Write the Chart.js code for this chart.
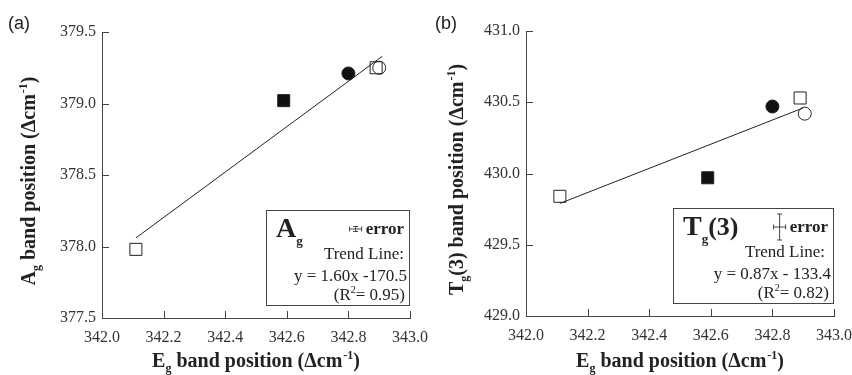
<!DOCTYPE html>
<html>
<head>
<meta charset="utf-8">
<script src="https://cdn.jsdelivr.net/npm/chart.js@4/dist/chart.umd.min.js"></script>
<style>
  html, body { margin: 0; padding: 0; background: #fff; }
  body { width: 852px; height: 375px; position: relative; overflow: hidden; }
  canvas { position: absolute; top: 0; }
  #cA { left: 0; }
  #cB { left: 426px; }
</style>
</head>
<body>
<canvas id="cA" width="430" height="375"></canvas>
<canvas id="cB" width="426" height="375"></canvas>
<script>
// ---------------- data ----------------
const xTicks = [342.0, 342.2, 342.4, 342.6, 342.8, 343.0];
const xTickLabels = ['342.0', '342.2', '342.4', '342.6', '342.8', '343.0'];
const yTicksA = [377.5, 378.0, 378.5, 379.0, 379.5];
const yTickLabelsA = ['377.5', '378.0', '378.5', '379.0', '379.5'];
const yTicksB = [429.0, 429.5, 430.0, 430.5, 431.0];
const yTickLabelsB = ['429.0', '429.5', '430.0', '430.5', '431.0'];

// (a) Eg vs Ag band position
const egA = [342.11, 342.59, 342.80, 342.89, 342.90];
const agA = [377.98, 379.02, 379.21, 379.25, 379.25];
const trendAx = [342.11, 342.91];
const trendAy = [378.06, 379.33];

// (b) Eg vs Tg(3) band position
const egB = [342.11, 342.59, 342.80, 342.89, 342.905];
const tgB = [429.84, 429.97, 430.47, 430.53, 430.42];
const trendBx = [342.11, 342.90];
const trendBy = [429.79, 430.46];

// legend texts
const legendA = { sym: 'A', sub: 'g', after: '', eq: 'y = 1.60x -170.5', r2: '0.95' };
const legendB = { sym: 'T', sub: 'g', after: '(3)', eq: 'y = 0.87x - 133.4', r2: '0.82' };

// ---------------- styles ----------------
const markerStyle = ['rect', 'rect', 'circle', 'rect', 'circle'];
const markerFill = ['rgba(0,0,0,0)', '#111', '#111', 'rgba(0,0,0,0)', 'rgba(0,0,0,0)'];
const markerRadius = [8.5, 8.5, 6.5, 8.5, 6.5];
const AXIS = '#444';
const SERIF = "'Liberation Serif', 'DejaVu Serif', serif";

function pts(xs, ys) { return xs.map((x, i) => ({ x: x, y: ys[i] })); }

function drawRich(ctx, parts, x, y, align) {
  let total = 0;
  parts.forEach(p => { ctx.font = p.font; p.w = ctx.measureText(p.t).width + (p.gap || 0); total += p.w; });
  let cx = align === 'center' ? x - total / 2 : (align === 'right' ? x - total : x);
  ctx.textAlign = 'left';
  ctx.textBaseline = 'alphabetic';
  parts.forEach(p => { ctx.font = p.font; ctx.fillText(p.t, cx + (p.gapBefore || 0), y + (p.dy || 0)); cx += p.w; });
}

function axisTitleParts(sym, sub, after) {
  const B = 'bold 20px ' + SERIF, S = 'bold 12px ' + SERIF;
  return [
    { t: sym, font: B },
    { t: sub, font: S, dy: 5 },
    { t: after + ' band position (\u0394cm', font: B },
    { t: '-1', font: S, dy: -8, gap: 1, gapBefore: 1 },
    { t: ')', font: B }
  ];
}

function makePlugin(opts) {
  return {
    id: 'decor' + opts.tag,
    afterDraw(chart) {
      const ctx = chart.ctx, ca = chart.chartArea;
      const xs = chart.scales.x, ys = chart.scales.y;
      ctx.save();
      // inward tick marks, placed by the library's scales
      ctx.strokeStyle = AXIS; ctx.lineWidth = 1;
      ctx.beginPath();
      xTicks.forEach(v => {
        const px = Math.round(xs.getPixelForValue(v)) + 0.5;
        ctx.moveTo(px, ca.bottom); ctx.lineTo(px, ca.bottom - 7);
      });
      opts.yTicks.forEach(v => {
        const py = Math.round(ys.getPixelForValue(v)) + 0.5;
        ctx.moveTo(ca.left, py); ctx.lineTo(ca.left + 7, py);
      });
      ctx.stroke();

      ctx.fillStyle = '#222';
      // panel tag
      ctx.font = '18px ' + "'Liberation Sans', Arial, sans-serif";
      ctx.textAlign = 'left'; ctx.textBaseline = 'alphabetic';
      ctx.fillText(opts.tag, opts.tagX, 29);
      // x title
      drawRich(ctx, axisTitleParts('E', 'g', ''), (ca.left + ca.right) / 2, 367, 'center');
      // y title
      ctx.save();
      ctx.translate(opts.yTitleX, (ca.top + ca.bottom) / 2 + 6);
      ctx.rotate(-Math.PI / 2);
      drawRich(ctx, axisTitleParts(opts.leg.sym, opts.leg.sub, opts.leg.after), 0, 0, 'center');
      ctx.restore();
      // legend box
      const bx2 = ca.right - 1, by2 = ca.bottom - 13;
      const bx1 = bx2 - opts.boxW, by1 = by2 - 95;
      ctx.strokeStyle = AXIS; ctx.lineWidth = 1;
      ctx.strokeRect(Math.round(bx1) + 0.5, Math.round(by1) + 0.5, opts.boxW, 95);
      // symbol
      drawRich(ctx, [
        { t: opts.leg.sym, font: 'bold 28px ' + SERIF },
        { t: opts.leg.sub, font: 'bold 13px ' + SERIF, dy: 8 },
        { t: opts.leg.after, font: 'bold 26px ' + SERIF }
      ], bx1 + 10, by1 + 27, 'left');
      // error text
      ctx.font = 'bold 17px ' + SERIF;
      ctx.textAlign = 'right';
      ctx.fillText('error', bx2 - 5, by1 + 24);
      const ew = ctx.measureText('error').width;
      // error cross
      const ex = bx2 - 5 - ew - 10, ey = by1 + 19;
      ctx.beginPath();
      ctx.moveTo(ex - opts.errH, ey); ctx.lineTo(ex + opts.errH, ey);
      ctx.moveTo(ex - opts.errH, ey - 2.5); ctx.lineTo(ex - opts.errH, ey + 2.5);
      ctx.moveTo(ex + opts.errH, ey - 2.5); ctx.lineTo(ex + opts.errH, ey + 2.5);
      ctx.moveTo(ex, ey - opts.errV); ctx.lineTo(ex, ey + opts.errV);
      ctx.moveTo(ex - 2.5, ey - opts.errV); ctx.lineTo(ex + 2.5, ey - opts.errV);
      ctx.moveTo(ex - 2.5, ey + opts.errV); ctx.lineTo(ex + 2.5, ey + opts.errV);
      ctx.stroke();
      // trend texts
      ctx.font = '17px ' + SERIF;
      ctx.textAlign = 'right';
      ctx.fillText('Trend Line:', bx2 - opts.tlPad, by1 + 49);
      ctx.fillText(opts.leg.eq, bx2 - 2, by1 + 71);
      drawRich(ctx, [
        { t: '(R', font: '17px ' + SERIF },
        { t: '2', font: '10px ' + SERIF, dy: -7 },
        { t: '= ' + opts.leg.r2 + ')', font: '17px ' + SERIF }
      ], bx2 - 4, by1 + 90, 'right');
      ctx.restore();
    }
  };
}

function makeChart(id, xs, ys, tx, ty, yTicks, yLabels, layoutPad, yWidth, xHeight, plugin) {
  const xLab = {}; xTicks.forEach((v, i) => xLab[v.toFixed(1)] = xTickLabels[i]);
  const yLab = {}; yTicks.forEach((v, i) => yLab[v.toFixed(1)] = yLabels[i]);
  return new Chart(document.getElementById(id), {
    type: 'scatter',
    data: {
      datasets: [
        {
          type: 'line', data: pts(tx, ty), borderColor: '#222', borderWidth: 1,
          pointRadius: 0, fill: false, tension: 0, order: 2
        },
        {
          data: pts(xs, ys), pointStyle: markerStyle, backgroundColor: markerFill,
          borderColor: '#222', borderWidth: 1, pointRadius: markerRadius,
          pointHoverRadius: markerRadius, order: 1
        }
      ]
    },
    options: {
      responsive: false, animation: false, devicePixelRatio: 1,
      layout: { padding: layoutPad },
      plugins: { legend: { display: false }, tooltip: { enabled: false } },
      scales: {
        x: {
          type: 'linear', min: xTicks[0], max: xTicks[xTicks.length - 1],
          afterBuildTicks: s => { s.ticks = xTicks.map(v => ({ value: v })); },
          afterFit: s => { s.height = xHeight; s.paddingLeft = 0; s.paddingRight = 0; },
          ticks: {
            callback: v => xLab[Number(v).toFixed(1)],
            font: { family: SERIF, size: 16 }, color: '#333', padding: 10, maxRotation: 0
          },
          grid: { drawOnChartArea: false, drawTicks: false, tickLength: 0, color: AXIS, lineWidth: 1 },
          border: { display: true, color: AXIS, width: 1 }
        },
        y: {
          type: 'linear', min: yTicks[0], max: yTicks[yTicks.length - 1],
          afterBuildTicks: s => { s.ticks = yTicks.map(v => ({ value: v })); },
          afterFit: s => { s.width = yWidth; s.paddingTop = 0; s.paddingBottom = 0; },
          ticks: {
            callback: v => yLab[Number(v).toFixed(1)],
            font: { family: SERIF, size: 16 }, color: '#333', padding: 6
          },
          grid: { drawOnChartArea: false, drawTicks: false, tickLength: 0, color: AXIS, lineWidth: 1 },
          border: { display: true, color: AXIS, width: 1 }
        }
      }
    },
    plugins: [plugin]
  });
}

makeChart('cA', egA, agA, trendAx, trendAy, yTicksA, yTickLabelsA,
  { left: 0, right: 20, top: 32, bottom: 0 }, 102, 57,
  makePlugin({ tag: '(a)', tagX: 8, yTitleX: 35, leg: legendA, yTicks: yTicksA, boxW: 143, errH: 6, errV: 2.5, tlPad: 5 }));

makeChart('cB', egB, tgB, trendBx, trendBy, yTicksB, yTickLabelsB,
  { left: 0, right: 18, top: 31, bottom: 0 }, 100, 59,
  makePlugin({ tag: '(b)', tagX: 9, yTitleX: 37, leg: legendB, yTicks: yTicksB, boxW: 160, errH: 6, errV: 13, tlPad: 8 }));
</script>
</body>
</html>
